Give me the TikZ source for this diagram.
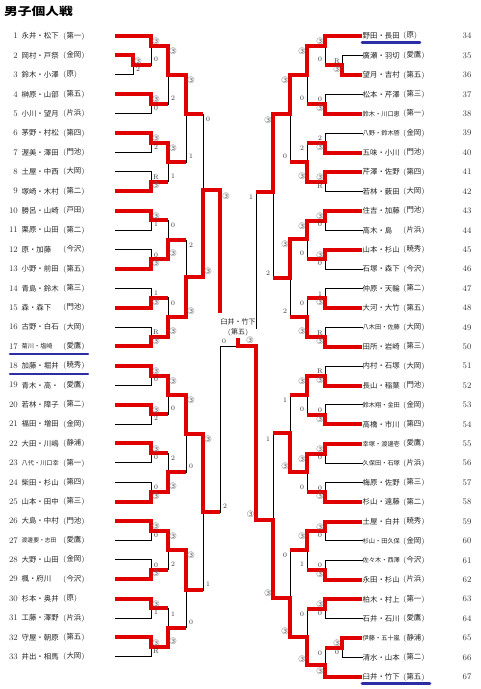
\documentclass[tikz,border=0pt]{standalone}
\usepackage{fontspec}
\usepackage{graphicx}
\newfontfamily\cjk{Noto Sans CJK JP}
\newfontfamily\dejavu{DejaVu Sans}
\definecolor{rd}{RGB}{225,0,0}
\definecolor{ul}{RGB}{45,45,165}
\pgfdeclarelayer{bg}
\pgfdeclarelayer{paper}
\pgfsetlayers{paper,bg,main}
\tikzset{
 blk/.style={line width=1pt, black, line cap=rect},
 redl/.style={line width=4pt, rd, line join=miter},
 sc/.style={inner sep=0pt, font=\fontsize{6.8}{7}\selectfont, text=black!80},
 nm/.style={inner sep=0pt, font=\cjk\fontsize{7.4}{8}\selectfont, text=black!85},
 num/.style={inner sep=0pt, font=\fontsize{8.5}{9}\selectfont, text=black!80},
 uline/.style={line width=2.6pt, ul, line cap=round},
}
\newcommand\C{{\dejavu\fontsize{8.8}{8.8}\selectfont\textcolor{black!55}{③}}}
% left match: xv, ytop, ybot, yout, xnext, ywinner, score top, score bottom
\newcommand\LM[8]{%
 \begin{pgfonlayer}{bg}\draw[blk] (#1,#2) -- (#1,#3);\end{pgfonlayer}
 \draw[redl] (#1,{#6+2*sign(#6-#4)}) -- (#1,#4) -- (#5,#4);
 \node[sc] at ({#1+5},{#2+5.5}) {#7};
 \node[sc] at ({#1+5},{#3-5.5}) {#8};
}
\newcommand\RM[8]{%
 \begin{pgfonlayer}{bg}\draw[blk] (#1,#2) -- (#1,#3);\end{pgfonlayer}
 \draw[redl] (#1,{#6+2*sign(#6-#4)}) -- (#1,#4) -- (#5,#4);
 \node[sc] at ({#1-5},{#2+5.5}) {#7};
 \node[sc] at ({#1-5},{#3-5.5}) {#8};
}
\newcommand\LN[5][7.4]{%
 \node[num,anchor=east] at (18,#3) {#2};
 \node[nm,anchor=west] at (21.5,#3) {\fontsize{#1}{8}\selectfont #4};
 \node[nm,anchor=west] at (63,#3) {{\rmfamily(}#5{\rmfamily)}};
}
\newcommand\RN[5][7.4]{%
 \node[num] at (467,#3) {#2};
 \node[nm,anchor=west] at (362.5,#3) {\fontsize{#1}{8}\selectfont #4};
 \node[nm,anchor=west] at (403,#3) {{\rmfamily(}#5{\rmfamily)}};
}
\begin{document}
\begin{tikzpicture}[x=1pt,y=-1pt]
\useasboundingbox (0,0) rectangle (480,689);
\begin{pgfonlayer}{paper}\fill[white] (0,0) rectangle (480,689);\end{pgfonlayer}
\node[anchor=west,inner sep=0pt,font=\cjk\bfseries\fontsize{11}{12}\selectfont] (title) at (4,11.5) {\scalebox{1.25}[1]{男子個人戦}};

% ---------- left names ----------
\LN{1}{36}{永井・松下}{第一}
\LN{2}{55.4}{岡村・戸祭}{金岡}
\LN{3}{74.8}{鈴木・小澤}{原}
\LN{4}{94.2}{榊原・山部}{第五}
\LN{5}{113.6}{小川・望月}{片浜}
\LN{6}{133}{茅野・村松}{第四}
\LN{7}{152.4}{渥美・澤田}{門池}
\LN{8}{171.8}{土屋・中西}{大岡}
\LN{9}{191.2}{塚崎・木村}{第二}
\LN{10}{210.6}{勝呂・山崎}{戸田}
\LN{11}{230}{栗原・山田}{第二}
\LN{12}{249.4}{原・加藤}{今沢}
\LN{13}{268.8}{小野・前田}{第五}
\LN{14}{288.2}{青島・鈴木}{第三}
\LN{15}{307.6}{森・森下}{門池}
\LN{16}{327}{古野・白石}{大岡}
\LN[6.2]{17}{346.4}{菊川・塩崎}{愛鷹}
\LN{18}{365.8}{加藤・堀井}{暁秀}
\LN{19}{385.2}{青木・高・}{愛鷹}
\LN{20}{404.6}{若林・障子}{第二}
\LN{21}{424}{福田・増田}{金岡}
\LN{22}{443.4}{大田・川嶋}{静浦}
\LN[6.2]{23}{462.8}{八代・川口幸}{第一}
\LN{24}{482.2}{柴田・杉山}{第四}
\LN{25}{501.6}{山本・田中}{第三}
\LN{26}{521}{大島・中村}{門池}
\LN[5.8]{27}{540.4}{渡邊要・志田}{愛鷹}
\LN{28}{559.8}{大野・山田}{金岡}
\LN{29}{579.2}{楓・府川}{今沢}
\LN{30}{598.6}{杉本・奥井}{原}
\LN{31}{618}{工藤・澤野}{片浜}
\LN{32}{637.4}{守屋・朝原}{第五}
\LN{33}{656.8}{井出・相馬}{大岡}

% ---------- right names ----------
\RN{34}{36}{野田・長田}{原}
\RN{35}{55.4}{廣瀬・羽切}{愛鷹}
\RN{36}{74.8}{望月・吉村}{第五}
\RN{37}{94.3}{松本・芹澤}{第三}
\RN[6.2]{38}{113.7}{鈴木・川口恵}{第一}
\RN[6.2]{39}{133.1}{八野・鈴木啓}{金岡}
\RN{40}{152.5}{五味・小川}{門池}
\RN{41}{171.9}{芹澤・佐野}{第四}
\RN{42}{191.4}{若林・薮田}{大岡}
\RN{43}{210.8}{住吉・加藤}{門池}
\RN{44}{230.2}{高木・島}{片浜}
\RN{45}{249.6}{山本・杉山}{暁秀}
\RN{46}{269}{石塚・森下}{今沢}
\RN{47}{288.5}{仲原・天輪}{第二}
\RN{48}{307.9}{大河・大竹}{第五}
\RN[6.2]{49}{327.3}{八木田・佐藤}{大岡}
\RN{50}{346.7}{田所・岩崎}{第三}
\RN{51}{366.1}{内村・石塚}{大岡}
\RN{52}{385.6}{長山・稲葉}{門池}
\RN[6.2]{53}{405}{鈴木翔・金田}{金岡}
\RN{54}{424.4}{高橋・市川}{第四}
\RN[6.2]{55}{443.8}{幸塚・渡邊壱}{愛鷹}
\RN[6.2]{56}{463.2}{久保田・石塚}{片浜}
\RN{57}{482.7}{梅原・佐野}{第三}
\RN{58}{502.1}{杉山・遠藤}{第二}
\RN{59}{521.5}{土屋・白井}{暁秀}
\RN[6.2]{60}{540.9}{杉山・田久保}{金岡}
\RN[6.2]{61}{560.3}{佐々木・西澤}{今沢}
\RN{62}{579.8}{永田・杉山}{片浜}
\RN{63}{599.2}{柏木・村上}{第一}
\RN{64}{618.6}{石井・石川}{愛鷹}
\RN[6.2]{65}{638}{伊藤・五十嵐}{静浦}
\RN{66}{657.4}{清水・山本}{第二}
\RN{67}{676.9}{臼井・竹下}{第五}

% underlines
\draw[uline] (10,354) -- (88,354);
\draw[uline] (10,374) -- (88,374);
\draw[uline] (362,42.7) -- (420,42.7);
\draw[uline] (362,683.5) -- (430,683.5);

% ---------- entry lines ----------
\begin{pgfonlayer}{bg}
\foreach \i in {5,7,8,11,12,14,16,19,21,23,24,27,28,31,33}
  \draw[blk] (115,{36+19.4*(\i-1)}) -- (151,{36+19.4*(\i-1)});
\draw[blk] (115,74.8) -- (133,74.8);
\foreach \j in {37,39,42,44,46,47,49,51,53,56,57,60,61,64}
  \draw[blk] (362,{36+19.42*(\j-34)}) -- (325,{36+19.42*(\j-34)});
\draw[blk] (362,55.4) -- (342,55.4);
\draw[blk] (362,657.4) -- (342,657.4);
\end{pgfonlayer}
\foreach \i in {1,4,6,9,10,13,15,17,18,20,22,25,26,29,30,32}
  \draw[redl] (115,{36+19.4*(\i-1)}) -- (151,{36+19.4*(\i-1)});
\draw[redl] (115,55.4) -- (133,55.4);
\foreach \j in {34,38,40,41,43,45,48,50,52,54,55,58,59,62,63,67}
  \draw[redl] (362,{36+19.42*(\j-34)}) -- (325,{36+19.42*(\j-34)});
\draw[redl] (362,74.8) -- (342,74.8);
\draw[redl] (362,638) -- (342,638);

% ---------- left bracket ----------
\LM{133}{55.4}{74.8}{65}{151}{55.4}{\C}{2}
\LM{151}{36}{65}{46}{168}{36}{\C}{0}
\LM{151}{94.2}{113.6}{104}{168}{94.2}{\C}{0}
\LM{168}{46}{104}{75}{186}{46}{\C}{2}
\LM{151}{133}{152.4}{142.7}{168}{133}{\C}{2}
\LM{151}{171.8}{191.2}{181.5}{168}{191.2}{R}{\C}
\LM{168}{142.7}{181.5}{162}{186}{142.7}{\C}{1}
\LM{186}{75}{162}{114}{203}{75}{\C}{1}
\LM{151}{210.6}{230}{220.3}{168}{210.6}{\C}{1}
\LM{151}{249.4}{268.8}{259.1}{168}{268.8}{0}{\C}
\LM{168}{220.3}{259.1}{240}{186}{259.1}{0}{\C}
\LM{151}{288.2}{307.6}{297.9}{168}{307.6}{1}{\C}
\LM{151}{327}{346.4}{336.7}{168}{346.4}{R}{\C}
\LM{168}{297.9}{336.7}{317}{186}{336.7}{0}{\C}
\LM{186}{240}{317}{277}{203}{317}{2}{\C}
\LM{203}{114}{277}{190}{220}{277}{0}{\C}
\LM{151}{365.8}{385.2}{375.5}{168}{365.8}{\C}{0}
\LM{151}{404.6}{424}{414.3}{168}{404.6}{\C}{2}
\LM{168}{375.5}{414.3}{395}{186}{375.5}{\C}{0}
\LM{151}{443.4}{462.8}{453.1}{168}{443.4}{\C}{0}
\LM{151}{482.2}{501.6}{491.9}{168}{501.6}{0}{\C}
\LM{168}{453.1}{491.9}{472}{186}{491.9}{2}{\C}
\LM{186}{395}{472}{434}{203}{395}{\C}{0}
\LM{151}{521}{540.4}{530.7}{168}{521}{\C}{0}
\LM{151}{559.8}{579.2}{569.5}{168}{579.2}{0}{\C}
\LM{168}{530.7}{569.5}{549.5}{186}{530.7}{\C}{2}
\LM{151}{598.6}{618}{608.3}{168}{598.6}{\C}{1}
\LM{151}{637.4}{656.8}{647.1}{168}{637.4}{\C}{R}
\LM{168}{608.3}{647.1}{627.5}{186}{647.1}{1}{\C}
\LM{186}{549.5}{627.5}{590}{203}{549.5}{\C}{0}
\LM{203}{434}{590}{512}{220}{434}{\C}{1}

% ---------- right bracket ----------
\RM{342}{55.4}{74.8}{65.1}{325}{74.8}{R}{\C}
\RM{325}{36}{65.1}{45.7}{307}{36}{\C}{0}
\RM{325}{94.3}{113.7}{104}{307}{113.7}{0}{\C}
\RM{307}{45.7}{104}{75}{290}{45.7}{\C}{0}
\RM{325}{133.1}{152.5}{142.8}{307}{152.5}{2}{\C}
\RM{325}{171.9}{191.4}{181.6}{307}{171.9}{\C}{R}
\RM{307}{142.8}{181.6}{162}{290}{181.6}{2}{\C}
\RM{290}{75}{162}{114.3}{273}{75}{\C}{0}
\RM{325}{210.8}{230.2}{220.5}{307}{210.8}{\C}{0}
\RM{325}{249.6}{269}{259.3}{307}{249.6}{\C}{0}
\RM{307}{220.5}{259.3}{238.5}{290}{220.5}{\C}{0}
\RM{325}{288.5}{307.9}{298.2}{307}{307.9}{1}{\C}
\RM{325}{327.3}{346.7}{337}{307}{346.7}{R}{\C}
\RM{307}{298.2}{337}{317}{290}{337}{0}{\C}
\RM{290}{238.5}{317}{278.3}{273}{238.5}{\C}{2}
\RM{273}{114.3}{278.3}{191.7}{256}{114.3}{\C}{2}
\RM{325}{366.1}{385.6}{375.8}{307}{385.6}{R}{\C}
\RM{325}{405}{424.4}{414.7}{307}{424.4}{0}{\C}
\RM{307}{375.8}{414.7}{395}{290}{375.8}{\C}{0}
\RM{325}{443.8}{463.2}{453.5}{307}{443.8}{\C}{0}
\RM{325}{482.7}{502.1}{492.4}{307}{502.1}{0}{\C}
\RM{307}{453.5}{492.4}{472}{290}{453.5}{\C}{0}
\RM{290}{395}{472}{433.3}{273}{472}{1}{\C}
\RM{325}{521.5}{540.9}{531.2}{307}{521.5}{\C}{0}
\RM{325}{560.3}{579.8}{570}{307}{579.8}{0}{\C}
\RM{307}{531.2}{570}{550}{290}{531.2}{\C}{1}
\RM{325}{599.2}{618.6}{608.9}{307}{599.2}{\C}{0}
\RM{342}{638}{657.4}{647.7}{325}{638}{\C}{0}
\RM{325}{647.7}{676.9}{665}{307}{676.9}{0}{\C}
\RM{307}{608.9}{665}{636.7}{290}{665}{0}{\C}
\RM{290}{550}{636.7}{598.3}{273}{636.7}{0}{\C}
\RM{273}{433.3}{598.3}{520}{256}{598.3}{1}{\C}

% ---------- semifinals and final ----------
\begin{pgfonlayer}{bg}
\draw[blk] (220,346) -- (220,512);
\draw[blk] (220,346) -- (238,346);
\draw[blk] (256,191.7) -- (256,328);
\end{pgfonlayer}
\draw[redl] (220,188) -- (220,313);
\draw[redl] (256,522) -- (256,346) -- (238,346) -- (238,338);
\node[sc] at (226,196) {\C};
\node[sc] at (225,506.5) {2};
\node[sc] at (251,197.2) {1};
\node[sc] at (250.5,514.5) {\C};
\node[sc] at (224,341) {0};
\node[sc] at (250,340.5) {\C};
\node[nm,align=center,font=\cjk\fontsize{7}{10}\selectfont] (champ) at (238,327) {臼井・竹下\\{\rmfamily(}第五{\rmfamily)}};
\end{tikzpicture}
\end{document}
